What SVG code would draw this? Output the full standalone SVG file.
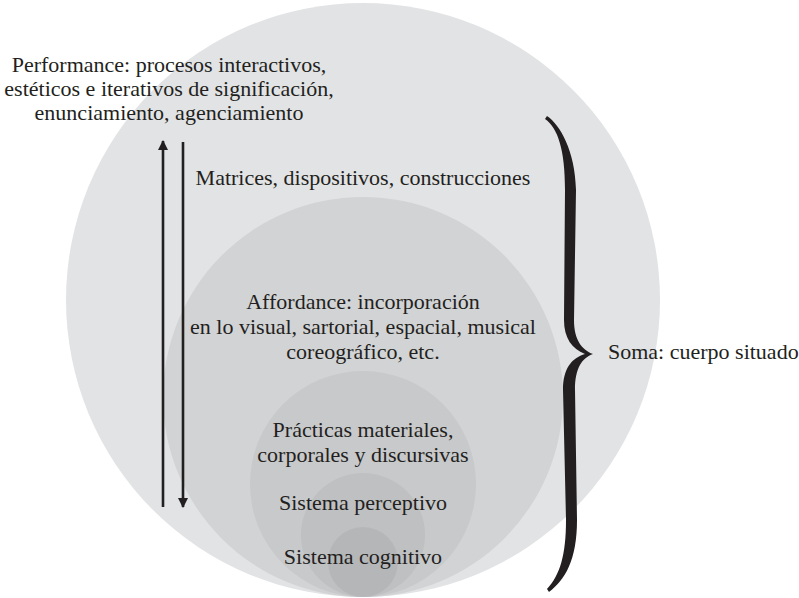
<svg xmlns="http://www.w3.org/2000/svg" width="799" height="598" viewBox="0 0 799 598">
  <style>
    text { font-family: 'Liberation Serif', 'DejaVu Serif', 'Times New Roman', Times, serif; font-size: 22px; fill: #231f20; }
    .mid { text-anchor: middle; }
    .line { stroke: #231f20; stroke-width: 2.6; fill: none; }
  </style>
  <defs>
    <marker id="head" viewBox="0 0 10 10" refX="9" refY="5" markerWidth="4" markerHeight="4" orient="auto" markerUnits="strokeWidth">
      <path d="M0,0 L10,5 L0,10 Z" fill="#231f20"/>
    </marker>
  </defs>
  <rect width="799" height="598" fill="#ffffff"/>

  <!-- nested layers, all touching at the bottom -->
  <g id="soma-circle"><circle cx="363" cy="300" r="297" fill="#e2e3e5"/></g>
  <g id="affordance-circle"><circle cx="363" cy="397" r="200" fill="#d2d3d5"/></g>
  <g id="practicas-circle"><circle cx="363" cy="484" r="113" fill="#c8c9cb"/></g>
  <g id="perceptivo-circle"><circle cx="363" cy="535" r="62" fill="#bfc0c2"/></g>
  <g id="cognitivo-circle"><circle cx="363" cy="562" r="35" fill="#b5b6b8"/></g>

  <!-- connectors -->
  <g id="connectors">
    <line class="line" x1="163" y1="507" x2="163" y2="141" marker-end="url(#head)"/>
    <line class="line" x1="183" y1="142" x2="183" y2="507" marker-end="url(#head)"/>
    <path id="brace" fill="#231f20" d="M547,116 C560,125 575,150 576,190 L574,320 C574,340 582,350 593,354 C582,358 575,368 575,390 L577,520 C577,560 565,580 549,592 L547,589 C560,575 566,555 566,520 L563,390 C563,368 572,358 585,354 C572,349 564,338 564,320 L565,190 C565,150 558,128 545,119 Z"/>
  </g>

  <!-- labels -->
  <g id="performance-label" font-family="Liberation Serif, serif">
    <text class="mid" x="169" y="72">Performance: procesos interactivos,</text>
    <text class="mid" x="169" y="96">estéticos e iterativos de significación,</text>
    <text class="mid" x="169" y="120">enunciamiento, agenciamiento</text>
  </g>
  <g id="matrices-label">
    <text class="mid" x="363" y="185">Matrices, dispositivos, construcciones</text>
  </g>
  <g id="affordance-label">
    <text class="mid" x="363" y="309">Affordance: incorporación</text>
    <text class="mid" x="363" y="334">en lo visual, sartorial, espacial, musical</text>
    <text class="mid" x="363" y="359">coreográfico, etc.</text>
  </g>
  <g id="practicas-label">
    <text class="mid" x="363" y="437">Prácticas materiales,</text>
    <text class="mid" x="363" y="462">corporales y discursivas</text>
  </g>
  <g id="perceptivo-label">
    <text class="mid" x="363" y="510">Sistema perceptivo</text>
  </g>
  <g id="cognitivo-label">
    <text class="mid" x="363" y="564">Sistema cognitivo</text>
  </g>
  <g id="soma-label">
    <text x="608" y="359">Soma: cuerpo situado</text>
  </g>
</svg>
